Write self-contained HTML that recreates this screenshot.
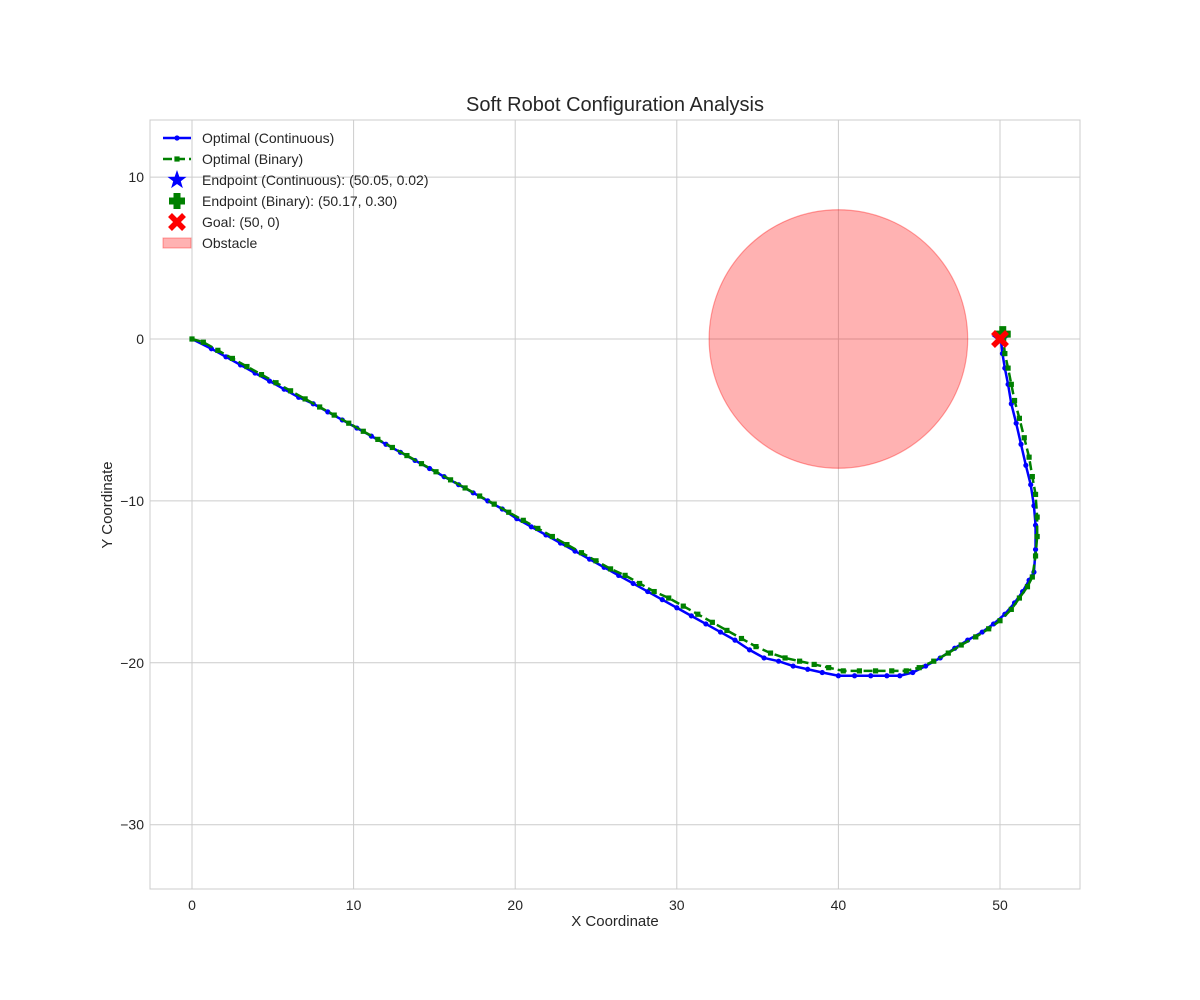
<!DOCTYPE html>
<html><head><meta charset="utf-8"><style>
body{margin:0;background:#fff;}
svg{display:block;font-family:"Liberation Sans","DejaVu Sans",sans-serif;}
</style></head><body>
<svg id="chart" width="1200" height="1000"></svg>
<script>
const xTicks=[0,10,20,30,40,50];
const yTicks=[-30,-20,-10,0,10];
const contX=[0,1.2,2.1,3.0,3.9,4.8,5.7,6.6,7.5,8.4,9.3,10.2,11.1,12.0,12.9,13.8,14.7,15.6,16.5,17.4,18.3,19.2,20.1,21.0,21.9,22.8,23.7,24.6,25.5,26.4,27.3,28.2,29.1,30.0,30.9,31.8,32.7,33.6,34.5,35.4,36.3,37.2,38.1,39.0,40.0,41.0,42.0,43.0,43.8,44.6,45.4,46.3,47.2,48.0,48.9,49.6,50.3,50.9,51.4,51.8,52.1,52.2,52.2,52.1,51.9,51.6,51.3,51.0,50.7,50.5,50.3,50.15,50.05];
const contY=[0,-0.6,-1.1,-1.6,-2.1,-2.6,-3.1,-3.6,-4.0,-4.5,-5.0,-5.5,-6.0,-6.5,-7.0,-7.5,-8.0,-8.5,-9.0,-9.5,-10.0,-10.5,-11.1,-11.6,-12.1,-12.6,-13.1,-13.6,-14.1,-14.6,-15.1,-15.6,-16.1,-16.6,-17.1,-17.6,-18.1,-18.6,-19.2,-19.7,-19.9,-20.2,-20.4,-20.6,-20.8,-20.8,-20.8,-20.8,-20.8,-20.6,-20.2,-19.7,-19.1,-18.6,-18.1,-17.6,-17.0,-16.3,-15.6,-14.9,-14.4,-13.0,-11.5,-10.3,-9.0,-7.8,-6.5,-5.2,-4.0,-2.8,-1.8,-0.9,0.02];
const binX=[0,0.7,1.6,2.5,3.4,4.3,5.2,6.1,7.0,7.9,8.8,9.7,10.6,11.5,12.4,13.3,14.2,15.1,16.0,16.9,17.8,18.7,19.6,20.5,21.4,22.3,23.2,24.1,25.0,25.9,26.8,27.7,28.6,29.5,30.4,31.3,32.2,33.1,34.0,34.9,35.8,36.7,37.6,38.5,39.4,40.3,41.3,42.3,43.3,44.2,45.0,45.9,46.8,47.6,48.5,49.3,50.0,50.7,51.2,51.7,52.0,52.2,52.3,52.3,52.2,52.0,51.8,51.5,51.2,50.9,50.7,50.5,50.3,50.17];
const binY=[0,-0.2,-0.7,-1.2,-1.7,-2.2,-2.7,-3.2,-3.7,-4.2,-4.7,-5.2,-5.7,-6.2,-6.7,-7.2,-7.7,-8.2,-8.7,-9.2,-9.7,-10.2,-10.7,-11.2,-11.7,-12.2,-12.7,-13.2,-13.7,-14.2,-14.6,-15.1,-15.6,-16.0,-16.5,-17.0,-17.5,-18.0,-18.5,-19.0,-19.4,-19.7,-19.9,-20.1,-20.3,-20.5,-20.5,-20.5,-20.5,-20.5,-20.3,-19.9,-19.4,-18.9,-18.4,-17.9,-17.4,-16.7,-16.0,-15.3,-14.7,-13.4,-12.2,-11.0,-9.6,-8.5,-7.3,-6.1,-4.9,-3.8,-2.8,-1.8,-0.9,0.30];
const endCont=[50.05,0.02];
const endBin=[50.17,0.30];
const goal=[50,0];
const obstacle=[40,0,8];

const L=150,R=1080,T=120,B=889;
const sx=v=>192+v*16.16;
const sy=v=>339-v*16.19;
const NS="http://www.w3.org/2000/svg";
const svg=document.getElementById('chart');
function mk(tag,attrs,parent){const e=document.createElementNS(NS,tag);for(const k in attrs)e.setAttribute(k,attrs[k]);(parent||svg).appendChild(e);return e;}

const grid=mk('g',{});


xTicks.forEach(t=>{
  const l=mk('line',{x1:sx(t),x2:sx(t),y1:T,y2:B,stroke:'#cccccc','stroke-width':1},grid);
  
  
  const tx=mk('text',{x:sx(t),y:B+21,'font-size':14,'text-anchor':'middle',fill:'#262626'});
  tx.textContent=t<0?'\u2212'+(-t):t;
  
  
});
yTicks.forEach(t=>{
  const l=mk('line',{x1:L,x2:R,y1:sy(t),y2:sy(t),stroke:'#cccccc','stroke-width':1},grid);
  
  
  const tx=mk('text',{x:L-6,y:sy(t)+5,'font-size':14,'text-anchor':'end',fill:'#262626'});
  tx.textContent=t<0?'\u2212'+(-t):t;
  
  
});
const frame=mk('rect',{x:L,y:T,width:R-L,height:B-T,fill:'none',stroke:'#cccccc','stroke-width':1});



const obs=mk('circle',{cx:sx(obstacle[0]),cy:sy(obstacle[1]),r:obstacle[2]*16.16,fill:'rgba(255,0,0,0.3)',stroke:'rgba(255,0,0,0.35)','stroke-width':1.2});



const cp=mk('polyline',{points:contX.map((x,i)=>sx(x)+','+sy(contY[i])).join(' '),fill:'none',stroke:'#0000ff','stroke-width':2.5,'stroke-linejoin':'round'});


contX.forEach((x,i)=>{const c=mk('circle',{cx:sx(x),cy:sy(contY[i]),r:2.6,fill:'#0000ff'});

});

const bp=mk('polyline',{points:binX.map((x,i)=>sx(x)+','+sy(binY[i])).join(' '),fill:'none',stroke:'#008000','stroke-width':2.5,'stroke-dasharray':'9,4'});


binX.forEach((x,i)=>{const c=mk('rect',{x:sx(x)-2.6,y:sy(binY[i])-2.6,width:5.2,height:5.2,fill:'#008000'});

});

function star(cx,cy,r){let p=[];for(let i=0;i<10;i++){const a=-Math.PI/2+i*Math.PI/5;const rr=i%2?r*0.4:r;p.push((cx+rr*Math.cos(a))+','+(cy+rr*Math.sin(a)));}return p.join(' ');}
function plus(cx,cy,s,w){return `M${cx-w},${cy-s}H${cx+w}V${cy-w}H${cx+s}V${cy+w}H${cx+w}V${cy+s}H${cx-w}V${cy+w}H${cx-s}V${cy-w}H${cx-w}Z`;}
function xmark(cx,cy,s,w,parent){const g=mk('g',{},parent);mk('line',{x1:cx-s,y1:cy-s,x2:cx+s,y2:cy+s,stroke:'#ff0000','stroke-width':w},g);mk('line',{x1:cx-s,y1:cy+s,x2:cx+s,y2:cy-s,stroke:'#ff0000','stroke-width':w},g);return g;}

const es=mk('polygon',{points:star(sx(endCont[0]),sy(endCont[1]),10),fill:'#0000ff'});


const eb=mk('path',{d:plus(sx(endBin[0]),sy(endBin[1]),8,3.5),fill:'#008000'});


const gm=xmark(sx(goal[0]),sy(goal[1]),7,5.5);



const lg=mk('g',{});


const labels=['Optimal (Continuous)','Optimal (Binary)','Endpoint (Continuous): (50.05, 0.02)','Endpoint (Binary): (50.17, 0.30)','Goal: (50, 0)','Obstacle'];
labels.forEach((s,i)=>{
  const y=138+i*21;
  if(i===0){mk('line',{x1:163,x2:191,y1:y,y2:y,stroke:'#0000ff','stroke-width':2.5},lg);mk('circle',{cx:177,cy:y,r:2.6,fill:'#0000ff'},lg);}
  if(i===1){mk('line',{x1:163,x2:191,y1:y,y2:y,stroke:'#008000','stroke-width':2.5,'stroke-dasharray':'9,4'},lg);mk('rect',{x:174.4,y:y-2.6,width:5.2,height:5.2,fill:'#008000'},lg);}
  if(i===2)mk('polygon',{points:star(177,y,10),fill:'#0000ff'},lg);
  if(i===3)mk('path',{d:plus(177,y,8,3.5),fill:'#008000'},lg);
  if(i===4)xmark(177,y,7,5.5,lg);
  if(i===5)mk('rect',{x:163,y:y-5,width:28,height:10,fill:'rgba(255,0,0,0.3)',stroke:'rgba(255,0,0,0.35)'},lg);
  const t=mk('text',{x:202,y:y+5,'font-size':14,fill:'#262626'},lg);
  t.textContent=s;
  
  
});

const title=mk('text',{x:615,y:111,'font-size':20,'text-anchor':'middle',fill:'#262626'});
title.textContent='Soft Robot Configuration Analysis';


const xl=mk('text',{x:615,y:926,'font-size':15,'text-anchor':'middle',fill:'#262626'});
xl.textContent='X Coordinate';


const yl=mk('text',{x:112,y:505,'font-size':15,'text-anchor':'middle',fill:'#262626',transform:'rotate(-90 112 505)'});
yl.textContent='Y Coordinate';


</script>
</body></html>
